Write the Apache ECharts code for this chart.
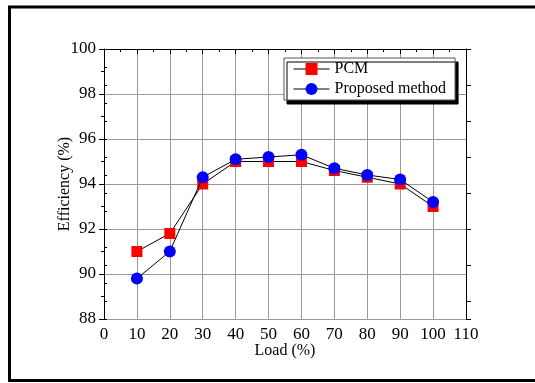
<!DOCTYPE html>
<html>
<head>
<meta charset="utf-8">
<script src="https://cdn.jsdelivr.net/npm/echarts@6/dist/echarts.min.js"></script>
<style>
html,body{margin:0;padding:0;background:#fff;}
#c{width:535px;height:383px;}
</style>
</head>
<body>
<div id="c"></div>
<script>
const loads = [10, 20, 30, 40, 50, 60, 70, 80, 90, 100];
const pcm = [91.0, 91.8, 94.0, 95.0, 95.0, 95.0, 94.6, 94.3, 94.0, 93.0];
const proposed = [89.8, 91.0, 94.3, 95.1, 95.2, 95.3, 94.7, 94.4, 94.2, 93.2];
const seriesNames = ['PCM', 'Proposed method'];
const xName = 'Load (%)';
const yName = 'Efficiency (%)';

const FONT = '"Liberation Serif", "Times New Roman", serif';
const chart = echarts.init(document.getElementById('c'), null, {renderer: 'canvas'});

const pair = (xs, ys) => xs.map((x, i) => [x, ys[i]]);

chart.setOption({
  animation: false,
  backgroundColor: '#fff',
  textStyle: {fontFamily: FONT, color: '#000'},
  graphic: [{
    type: 'rect',
    shape: {x: 9.5, y: 7, width: 560, height: 373.5},
    style: {fill: 'none', stroke: '#000', lineWidth: 3},
    silent: true,
    z: 100
  }],
  grid: {left: 104, top: 49, width: 362, height: 270, containLabel: false},
  legend: {
    orient: 'vertical',
    left: 284,
    top: 58,
    padding: [3, 9, 3, 9],
    itemGap: 4,
    itemWidth: 36,
    itemHeight: 15,
    backgroundColor: '#fff',
    borderColor: '#555',
    borderWidth: 1,
    shadowColor: '#000',
    shadowBlur: 0,
    shadowOffsetX: 3,
    shadowOffsetY: 4,
    lineStyle: {width: 1, color: '#000'},
    textStyle: {fontFamily: FONT, fontSize: 16, color: '#000'},
    data: seriesNames
  },
  xAxis: [{
    type: 'value', min: 0, max: 110, interval: 10,
    name: xName, nameLocation: 'middle', nameGap: 24, nameMoveOverlap: false,
    nameTextStyle: {fontFamily: FONT, fontSize: 16, color: '#000'},
    axisLine: {show: true, lineStyle: {color: '#000', width: 1}},
    axisTick: {show: true, inside: false, length: 5, lineStyle: {color: '#000'}},
    minorTick: {show: true, splitNumber: 2, length: 3, lineStyle: {color: '#000'}},
    axisLabel: {fontFamily: FONT, fontSize: 17, color: '#000', margin: 7},
    splitLine: {show: true, lineStyle: {color: '#999', width: 1}}
  }, {
    type: 'value', min: 0, max: 110, interval: 10, position: 'top',
    axisLine: {show: true, onZero: false, lineStyle: {color: '#000', width: 1}},
    axisTick: {show: true, inside: true, length: 4, lineStyle: {color: '#000'}},
    minorTick: {show: true, splitNumber: 2, length: 3, lineStyle: {color: '#000'}},
    axisLabel: {show: false},
    splitLine: {show: false}
  }],
  yAxis: [{
    type: 'value', min: 88, max: 100, interval: 2,
    name: yName, nameLocation: 'middle', nameGap: 31, nameRotate: 90, nameMoveOverlap: false,
    nameTextStyle: {fontFamily: FONT, fontSize: 16, color: '#000'},
    axisLine: {show: true, lineStyle: {color: '#000', width: 1}},
    axisTick: {show: true, inside: false, length: 5, lineStyle: {color: '#000'}},
    minorTick: {show: true, splitNumber: 2, length: 3, lineStyle: {color: '#000'}},
    axisLabel: {fontFamily: FONT, fontSize: 17, color: '#000', margin: 8},
    splitLine: {show: true, lineStyle: {color: '#999', width: 1}}
  }, {
    type: 'value', min: 0, max: 15, interval: 2, inverse: true, position: 'right',
    axisLine: {show: true, onZero: false, lineStyle: {color: '#000', width: 1}},
    axisTick: {show: true, inside: false, length: 5, lineStyle: {color: '#000'}},
    axisLabel: {show: false},
    splitLine: {show: false}
  }, {
    type: 'value', min: 0, max: 15, interval: 1, inverse: true, position: 'right',
    axisLine: {show: false},
    axisTick: {show: true, inside: false, length: 3, lineStyle: {color: '#000'}},
    axisLabel: {show: false},
    splitLine: {show: false}
  }],
  series: [{
    name: seriesNames[0], type: 'line', xAxisIndex: 0, yAxisIndex: 0,
    data: pair(loads, pcm),
    symbol: 'rect', symbolSize: 11,
    itemStyle: {color: '#ff0000'},
    lineStyle: {color: '#000', width: 1},
    z: 3
  }, {
    name: seriesNames[1], type: 'line', xAxisIndex: 0, yAxisIndex: 0,
    data: pair(loads, proposed),
    symbol: 'circle', symbolSize: 12,
    itemStyle: {color: '#0000ff'},
    lineStyle: {color: '#000', width: 1},
    z: 4
  }]
});
</script>
</body>
</html>
